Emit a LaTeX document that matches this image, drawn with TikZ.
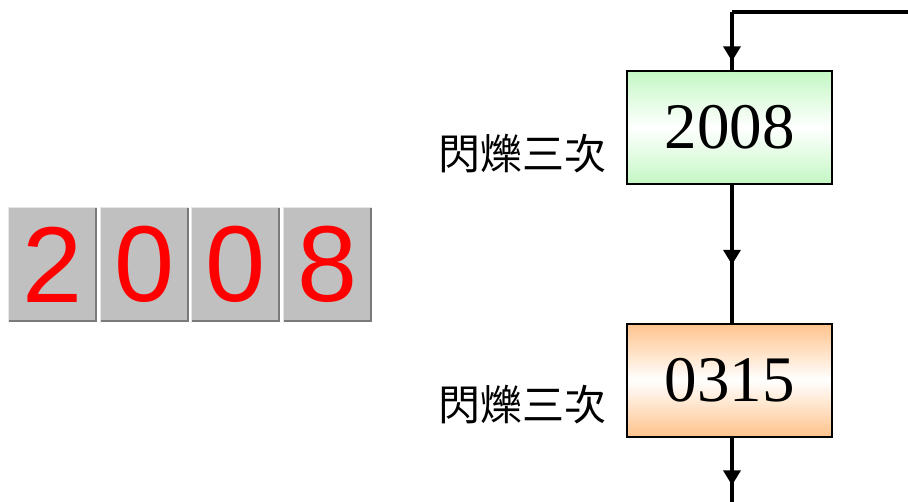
\documentclass[tikz,border=0pt]{standalone}
\usepackage{fontspec}
\setmainfont{Liberation Serif}
\newfontfamily\digitfont{Liberation Sans}
\newfontfamily\cjkfont{Noto Sans CJK TC}
\usetikzlibrary{arrows.meta,decorations.markings}
\definecolor{keygray}{HTML}{C0C0C0}
\definecolor{keydark}{HTML}{7A7A7A}
\definecolor{keylight}{HTML}{E6E6E6}
\definecolor{greenbox}{HTML}{C4F7C4}
\definecolor{orangebox}{HTML}{FFC38C}
\tikzset{
  keybox/.style={fill=keygray, draw=none, minimum width=88pt, minimum height=115pt, inner sep=0pt,
     text=red, font=\digitfont\fontsize{108}{108}\selectfont},
  flowbox/.style={draw=black, line width=2pt, minimum width=205pt, minimum height=113pt, inner sep=0pt,
     font=\fontsize{65}{65}\selectfont},
  greenfill/.style={top color=greenbox, bottom color=greenbox, middle color=white},
  orangefill/.style={top color=orangebox, bottom color=orangebox, middle color=white},
  sidelabel/.style={font=\cjkfont\fontsize{42}{42}\selectfont, inner sep=0pt, anchor=east},
  flowline/.style={line width=3.6pt},
  midarrow/.style={postaction={decorate}, decoration={markings,
     mark=at position #1 with {\arrow{Triangle[width=17pt,length=15pt]}}}}
}
\begin{document}
\begin{tikzpicture}[x=1pt,y=-1pt]
\useasboundingbox (0,0) rectangle (908,501);
% digit keys
\foreach \d/\cx [count=\i] in {2/52.5,0/144.5,0/236,8/328}{
  \node[keybox] (k\i) at (\cx,264.5) {\d};
  \draw[keydark, line width=2pt] ([xshift=-1pt]k\i.north east) -- ([xshift=-1pt,yshift=1pt]k\i.south east) -- ([yshift=1pt]k\i.south west);
  \draw[keylight, line width=1pt] ([yshift=-0.5pt]k\i.south west) |- ([yshift=-0.5pt]k\i.north east);
}
% flow boxes
\node[flowbox, greenfill] (a) at (729.5,127.5) {2008};
\node[flowbox, orangefill] (b) at (729.5,380) {0315};
\node[sidelabel] (la) at (607,154) {閃爍三次};
\node[sidelabel] (lb) at (607,405) {閃爍三次};
% connectors
\coordinate (topR) at (910,12);
\coordinate (topL) at (732,12);
\coordinate (botE) at (732,503);
\draw[flowline] (topR) -- (topL);
\draw[flowline, midarrow=0.85] (topL) -- ([xshift=2.5pt]a.north);
\draw[flowline, midarrow=0.58] ([xshift=2.5pt]a.south) -- ([xshift=2.5pt]b.north);
\draw[flowline, midarrow=0.73] ([xshift=2.5pt]b.south) -- (botE);
\end{tikzpicture}
\end{document}
